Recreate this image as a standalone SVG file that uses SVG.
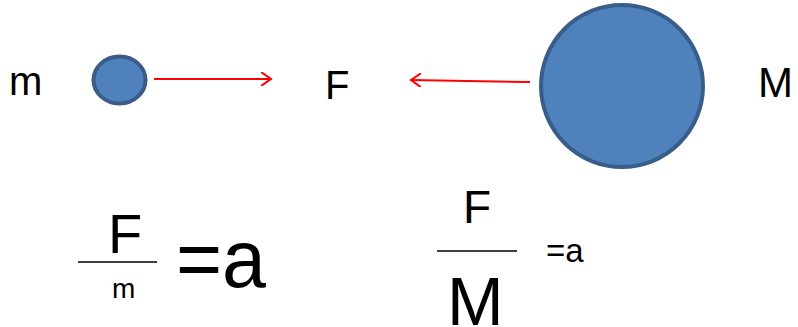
<svg xmlns="http://www.w3.org/2000/svg" width="798" height="327" viewBox="0 0 798 327">
<style>
.t{font-family:"Liberation Sans",Arial,sans-serif;fill:#000}
.body{fill:#4f81bd;stroke:#385d8a;stroke-width:4}
.arr{fill:none;stroke:#ff0000;stroke-width:2}
.bar{stroke:#000;stroke-width:1.6}
</style>
<defs>
<marker id="head" markerWidth="12" markerHeight="14" refX="10" refY="7" orient="auto" markerUnits="userSpaceOnUse" viewBox="0 0 12 14">
<path d="M0,0 L10,7 L0,14" fill="none" stroke="#ff0000" stroke-width="2"/>
</marker>
</defs>
<rect width="798" height="327" fill="#fff"/>
<g id="small-mass">
<ellipse class="body" cx="119.5" cy="80" rx="26" ry="23.5"/>
</g>
<g id="large-mass">
<circle class="body" cx="622" cy="86" r="81"/>
</g>
<g id="connectors">
<line class="arr" x1="154" y1="79" x2="271" y2="79" marker-end="url(#head)"/>
<line class="arr" x1="530" y1="82" x2="411" y2="80" marker-end="url(#head)"/>
</g>
<g id="labels">
<text class="t" x="9" y="95" font-size="40">m</text>
<text class="t" x="325" y="99" font-size="40">F</text>
<text class="t" x="758" y="97" font-size="42">M</text>
</g>
<g id="formula-left">
<text class="t" x="108" y="253" font-size="56">F</text>
<line class="bar" x1="78" y1="262" x2="157" y2="262"/>
<text class="t" x="112" y="298" font-size="28">m</text>
<text class="t" x="176" y="287" font-size="82" textLength="90" lengthAdjust="spacingAndGlyphs">=a</text>
</g>
<g id="formula-right">
<text class="t" x="463" y="223" font-size="46">F</text>
<line class="bar" x1="437" y1="251" x2="517" y2="251"/>
<text class="t" x="447" y="325" font-size="68">M</text>
<text class="t" x="546" y="262" font-size="33">=a</text>
</g>
</svg>
